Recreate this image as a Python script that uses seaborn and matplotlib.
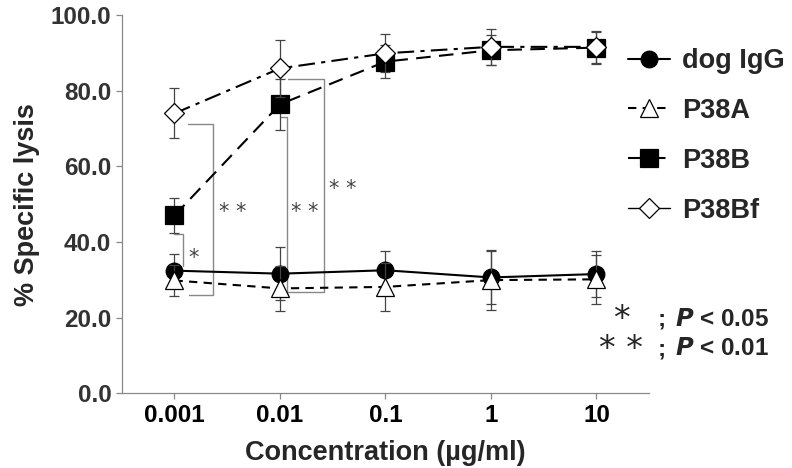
import numpy as np
import pandas as pd
import seaborn as sns
import matplotlib.pyplot as plt
from matplotlib.lines import Line2D

sns.set_style("ticks")
plt.rcParams['font.family'] = ['Liberation Sans', 'DejaVu Sans']
plt.rcParams['font.weight'] = 'bold'

# data
conc = [0.001, 0.01, 0.1, 1, 10]
tick_labels = ["0.001", "0.01", "0.1", "1", "10"]
dog_igg = [32.4, 31.6, 32.5, 30.6, 31.5]
dog_igg_sd = [4.3, 7.0, 5.0, 7.0, 6.2]
p38a = [29.8, 27.7, 28.1, 29.9, 30.1]
p38a_sd = [4.0, 6.0, 6.3, 8.0, 6.4]
p38b = [47.0, 76.4, 87.7, 90.7, 91.4]
p38b_sd = [4.6, 6.8, 4.4, 4.0, 4.2]
p38bf = [74.0, 85.9, 89.9, 91.6, 91.6]
p38bf_sd = [6.6, 7.5, 5.0, 4.8, 4.2]

series = [
    ("dog IgG", dog_igg, dog_igg_sd, "o", "black", "-", 12),
    ("P38A", p38a, p38a_sd, "^", "white", (0, (4, 3)), 13),
    ("P38B", p38b, p38b_sd, "s", "black", (0, (7, 4)), 12.5),
    ("P38Bf", p38bf, p38bf_sd, "D", "white", (0, (8, 3, 2, 3)), 10.5),
]

fig = plt.figure(figsize=(7.92, 4.68), dpi=100)
ax = fig.add_axes([0.1537, 0.160, 0.666, 0.8077])

for i, (name, vals, sd, mk, fc, ls, ms) in enumerate(series):
    ax.errorbar(conc, vals, yerr=sd, fmt="none", ecolor="#444444",
                elinewidth=0.9, capsize=3.5, capthick=0.9, zorder=2 + i)
    df = pd.DataFrame({"conc": conc, "val": vals})
    sns.lineplot(data=df, x="conc", y="val", ax=ax, color="black",
                 linestyle=ls, linewidth=1.5, marker=mk, markersize=ms,
                 markerfacecolor=fc, markeredgecolor="black",
                 markeredgewidth=0.9, zorder=3 + i)

# significance brackets
gray = "#888888"
br_kw = dict(color=gray, lw=1.0, zorder=1)
ax.plot([0.00134, 0.00231, 0.00231, 0.00138], [71.3, 71.3, 25.9, 25.9], **br_kw)
ax.plot([0.0010, 0.0012, 0.0012], [42.2, 42.2, 33.5], **br_kw)
ax.plot([0.0101, 0.0116, 0.0116, 0.0105], [73.1, 73.1, 25.9, 25.9], **br_kw)
ax.plot([0.0120, 0.0263, 0.0263, 0.0118], [83.1, 83.1, 26.8, 26.8], **br_kw)

star_kw = dict(fontsize=15, fontweight="normal", color="#444444",
               ha="center", va="center", family="DejaVu Sans")
ax.text(0.0036, 48.0, "* *", **star_kw)
ax.text(0.00152, 35.8, "*", **star_kw)
ax.text(0.0172, 48.0, "* *", **star_kw)
ax.text(0.0395, 54.0, "* *", **star_kw)

ax.set_xscale("log")
ax.set_xlim(10 ** -3.5, 10 ** 1.5)
ax.set_ylim(0, 100)
ax.set_xticks(conc)
ax.set_xticklabels(tick_labels)
ax.minorticks_off()
ax.set_yticks([0, 20, 40, 60, 80, 100])
ax.set_yticklabels([f"{v:.1f}" for v in [0, 20, 40, 60, 80, 100]])
ax.tick_params(axis="both", colors="#888888", length=4, width=0.9,
               labelsize=17.5)
for lab in ax.get_xticklabels():
    lab.set_color("black")
for lab in ax.get_yticklabels():
    lab.set_color("#333333")
for side in ["top", "right"]:
    ax.spines[side].set_visible(False)
for side in ["left", "bottom"]:
    ax.spines[side].set_color("#888888")
    ax.spines[side].set_linewidth(0.9)

ax.set_xlabel("Concentration (µg/ml)", fontsize=19.5, fontweight="bold",
              labelpad=10)
ax.set_ylabel("% Specific lysis", fontsize=19.5, fontweight="bold",
              labelpad=8)

handles = [
    Line2D([], [], color="black", linestyle=ls, lw=1.5, marker=mk,
           markersize=ms, markerfacecolor=fc, markeredgecolor="black",
           markeredgewidth=0.9)
    for (_, _, _, mk, fc, ls, ms) in series
]
handles[3].set_linestyle("-")
handles[3].set_linewidth(1.0)
leg = fig.legend(handles, [s[0] for s in series], loc="upper left",
                 bbox_to_anchor=(628 / 792, 1 - 48 / 468),
                 bbox_transform=fig.transFigure, frameon=False,
                 fontsize=19.5, handlelength=1.55, labelspacing=0.88,
                 handletextpad=0.45, borderaxespad=0, borderpad=0)
for t in leg.get_texts():
    t.set_fontweight("bold")

fig.text(0.785, 0.317, "*", fontsize=24, fontweight="normal",
         family="DejaVu Sans", ha="center", va="center")
fig.text(0.784, 0.253, "* *", fontsize=24, fontweight="normal",
         family="DejaVu Sans", ha="center", va="center")
fig.text(0.830, 0.318, ";", fontsize=17.5, fontweight="bold", va="center")
fig.text(0.830, 0.255, ";", fontsize=17.5, fontweight="bold", va="center")
fig.text(0.852, 0.318, r"$\bf\it{P}$ < 0.05", fontsize=17.5,
         fontweight="bold", va="center")
fig.text(0.852, 0.255, r"$\bf\it{P}$ < 0.01", fontsize=17.5,
         fontweight="bold", va="center")

fig.savefig("out.png", dpi=100)
